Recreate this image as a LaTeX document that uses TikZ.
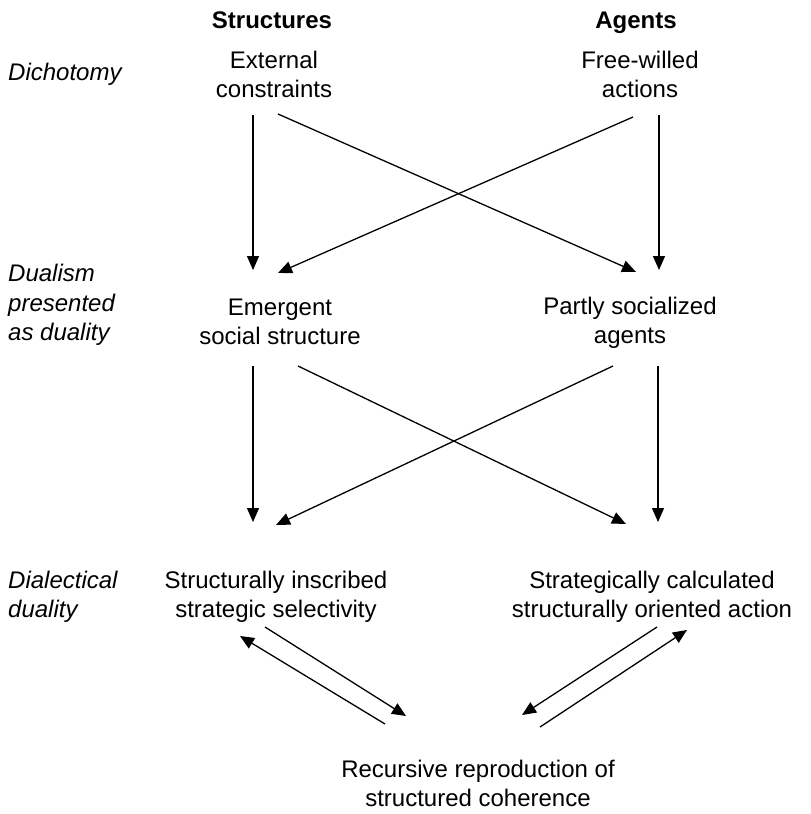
\documentclass[tikz,border=0pt]{standalone}
\usepackage{fontspec}
\setmainfont{Liberation Sans}
\usetikzlibrary{arrows.meta}
\begin{document}
\begin{tikzpicture}[x=1pt,y=-1pt,
  lbl/.style={align=center,font=\fontsize{24}{29}\selectfont,inner sep=0pt},
  head/.style={lbl,anchor=base,font=\fontsize{24}{29}\selectfont\bfseries},
  level/.style={lbl,align=left,anchor=west,font=\fontsize{24}{29.5}\selectfont\itshape},
  link/.style={line width=1.3pt,-{Triangle[length=14pt,width=12pt]}}]
\useasboundingbox (0,0) rectangle (811,814);

% column headings, on a common baseline
\node[head] (hs) at (272,28) {Structures};
\node[head] (ha) at (636,28) {Agents};

% level labels
\node[level] (l1) at (8,74) {Dichotomy};
\node[level] (l2) at (8,305) {Dualism\\presented\\as duality};
\node[level] (l3) at (8,597) {Dialectical\\duality};

% diagram nodes
\node[lbl] (ext) at (274,74) {External\\constraints};
\node[lbl] (free) at (640,74) {Free-willed\\actions};
\node[lbl] (emg) at (280,322) {Emergent\\social structure};
\node[lbl] (psa) at (630,323) {Partly socialized\\agents};
\node[lbl] (sis) at (276,597) {Structurally inscribed\\strategic selectivity};
\node[lbl] (scs) at (652,597) {Strategically calculated\\structurally oriented action};
\node[lbl] (rec) at (478,783) {Recursive reproduction of\\structured coherence};

% connector end points
\coordinate (a1) at (253,115); \coordinate (a2) at (253,270);
\coordinate (b1) at (278,114); \coordinate (b2) at (636,272);
\coordinate (c1) at (659,115); \coordinate (c2) at (659,270);
\coordinate (d1) at (633,117); \coordinate (d2) at (278,273);

\coordinate (e1) at (253,366); \coordinate (e2) at (253,522);
\coordinate (f1) at (298,366); \coordinate (f2) at (626,524);
\coordinate (g1) at (658,366); \coordinate (g2) at (658,522);
\coordinate (h1) at (613,366); \coordinate (h2) at (276,525);

\coordinate (p1) at (385,724); \coordinate (p2) at (240,636);
\coordinate (q1) at (265,627); \coordinate (q2) at (406,716);
\coordinate (r1) at (657,627); \coordinate (r2) at (522,715);
\coordinate (s1) at (540,727); \coordinate (s2) at (687,630);

% dichotomy to dualism
\draw[link] (a1) -- (a2);
\draw[link] (b1) -- (b2);
\draw[link] (c1) -- (c2);
\draw[link] (d1) -- (d2);

% dualism to dialectical duality
\draw[link] (e1) -- (e2);
\draw[link] (f1) -- (f2);
\draw[link] (g1) -- (g2);
\draw[link] (h1) -- (h2);

% recursive loops between the two sides and their reproduction
\draw[link] (p1) -- (p2);
\draw[link] (q1) -- (q2);
\draw[link] (r1) -- (r2);
\draw[link] (s1) -- (s2);
\end{tikzpicture}
\end{document}
